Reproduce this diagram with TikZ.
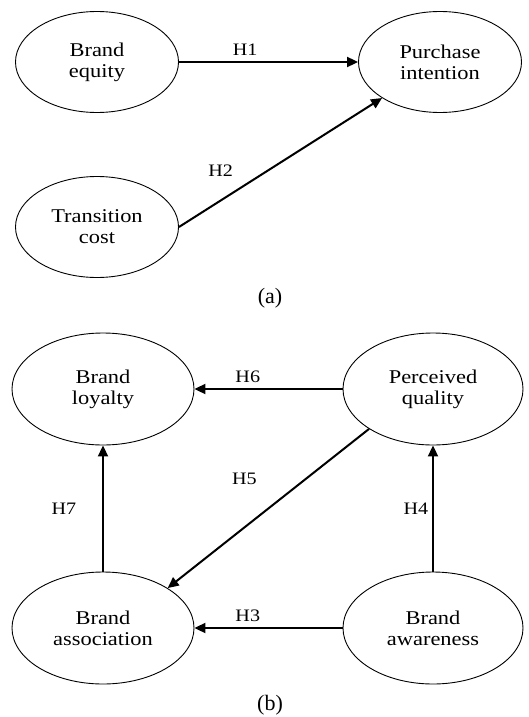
\documentclass[tikz,border=0pt]{standalone}
\usepackage{fontspec}
\setmainfont[FakeStretch=1.15]{Liberation Serif}
\newfontfamily\capfont{Liberation Serif}
\usetikzlibrary{shapes,arrows.meta,positioning}
\tikzstyle{construct} = [ellipse, draw, line width=0.9pt, inner sep=0pt, align=center, font=\fontsize{19.5}{21}\selectfont]
\tikzstyle{arrow} = [-{Triangle[length=11pt,width=10pt]}, line width=2pt]
\tikzstyle{hyp} = [font=\fontsize{17.5}{19}\selectfont]

\begin{document}
\begin{tikzpicture}[x=1pt,y=-1pt]
\useasboundingbox (0,0) rectangle (529,717);
% (a)
\node[construct, minimum width=163pt, minimum height=101pt] at (97,62) (equity) {Brand\\equity};
\node[construct, minimum width=163pt, minimum height=101pt] at (440,62) (purchase) {Purchase\\intention};
\node[construct, minimum width=163pt, minimum height=101pt] at (97,227) (transition) {Transition\\cost};
\draw[arrow] (equity) -- (purchase) node[hyp,pos=0.37,above=2pt]{H1};
\draw[arrow] (transition.east) -- (purchase.south west) node[hyp,pos=0.2,xshift=1pt,yshift=31pt]{H2};
\node[font=\capfont\fontsize{22}{24}\selectfont] at (270,298) (capa) {(a)};
% (b)
\node[construct, minimum width=182pt, minimum height=112pt] at (103,389) (loyalty) {Brand\\loyalty};
\node[construct, minimum width=180pt, minimum height=112pt] at (433,389) (quality) {Perceived\\quality};
\node[construct, minimum width=182pt, minimum height=112pt] at (103,628) (association) {Brand\\association};
\node[construct, minimum width=180pt, minimum height=112pt] at (433,628) (awareness) {Brand\\awareness};
\draw[arrow] (quality) -- (loyalty) node[hyp,pos=0.64,above=2pt]{H6};
\draw[arrow] (awareness) -- (association) node[hyp,pos=0.64,above=2pt]{H3};
\draw[arrow] (quality.south west) -- (association.north east) node[hyp,pos=0.4,xshift=-44pt,yshift=14pt]{H5};
\draw[arrow] (association) -- (loyalty) node[hyp,midway,xshift=-39pt]{H7};
\draw[arrow] (awareness) -- (quality) node[hyp,midway,xshift=-17pt]{H4};
\node[font=\capfont\fontsize{22}{24}\selectfont] at (270,705) (capb) {(b)};
\end{tikzpicture}
\end{document}
